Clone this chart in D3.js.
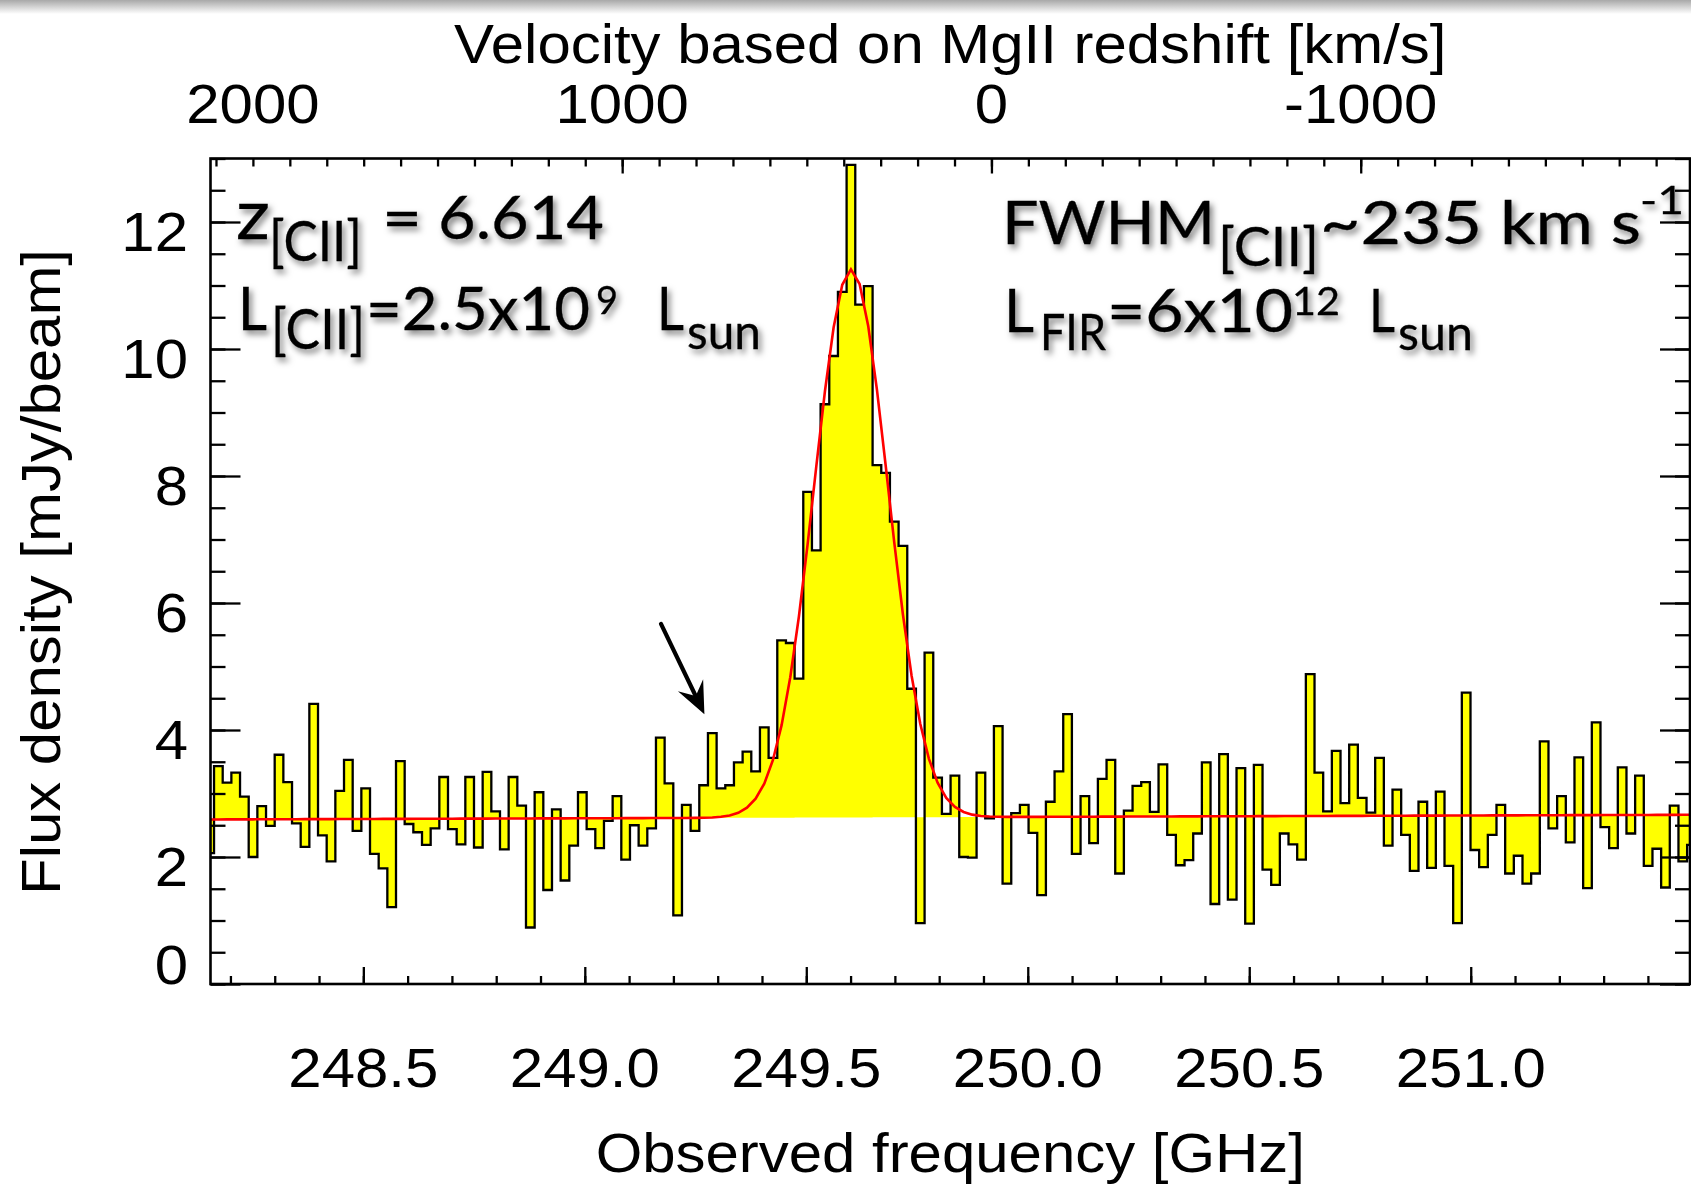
<!DOCTYPE html>
<html>
<head>
<meta charset="utf-8">
<script src="https://cdn.jsdelivr.net/npm/d3@7"></script>
<style>
  html, body { margin: 0; padding: 0; background: #fff; }
  svg { display: block; }
  text { white-space: pre; }
</style>
</head>
<body>
<script>
// channel grid of the spectrum (GHz)
const chanStart = 248.1532;   // centre of the first (partly hidden) channel
const chanWidth = 0.019562;

// flux density per channel [mJy/beam]
const flux = [
  2.06,
  3.43, 3.17, 3.33, 2.95, 2.00, 2.80, 2.49, 3.61, 3.18, 2.53,
  2.16, 4.41, 2.34, 1.93, 3.04, 3.53, 2.41, 3.08, 2.05, 1.82,
  1.21, 3.51, 2.52, 2.39, 2.19, 2.45, 3.26, 2.44, 2.20, 3.26,
  2.15, 3.34, 2.72, 2.12, 3.26, 2.81, 0.89, 3.02, 1.48, 2.75,
  1.63, 2.18, 3.02, 2.44, 2.14, 2.57, 2.96, 1.96, 2.50, 2.18,
  2.45, 3.88, 3.16, 1.08, 2.82, 2.41, 3.13, 3.95, 3.08, 3.13,
  3.49, 3.66, 3.35, 4.04, 3.56, 5.41, 5.37, 4.81, 7.75, 6.83,
  9.13, 9.89, 10.90, 12.90, 10.70, 10.99, 8.17, 8.05, 7.28, 6.90,
  4.65, 0.96, 5.22, 3.25, 2.68, 3.28, 2.00, 1.99, 3.33, 2.61,
  4.06, 1.58, 2.69, 2.82, 2.38, 1.40, 2.87, 3.35, 4.25, 2.05,
  2.96, 2.22, 3.23, 3.53, 1.74, 2.73, 3.12, 3.18, 2.71, 3.46,
  2.35, 1.87, 1.95, 2.37, 3.49, 1.26, 3.62, 1.33, 3.40, 0.95,
  3.45, 1.80, 1.56, 2.37, 2.20, 1.96, 4.88, 3.33, 2.72, 3.67,
  2.85, 3.77, 2.93, 2.70, 3.56, 2.18, 3.06, 2.35, 1.78, 2.87,
  1.83, 3.03, 1.86, 0.96, 4.59, 2.11, 1.84, 2.35, 2.82, 1.74,
  2.02, 1.58, 1.74, 3.82, 2.45, 2.96, 2.23, 3.57, 1.51, 4.12,
  2.47, 2.14, 3.41, 2.37, 3.28, 1.86, 2.13, 1.52, 2.81, 1.93,
  2.19
];

// gaussian + continuum fit (red curve)
const fitCenter = 249.601;   // GHz
const fitFwhmKms = 235;
const fitAmp = 8.63;         // mJy above continuum
const contLevel = 2.623;     // continuum at fitCenter
const contSlope = 0.022;     // per GHz

const restFreq = 249.918;    // GHz, zero velocity (MgII redshift)
const cLight = 299792.458;

const freqRange = [248.155, 251.495];
const fluxRange = [0, 13];
const freqTicks = [248.5, 249.0, 249.5, 250.0, 250.5, 251.0];
const fluxTicks = [0, 2, 4, 6, 8, 10, 12];
const velTicks = [2000, 1000, 0, -1000];
const velMajor = [1000, 0, -1000];

// arrow pointing at the blue wing [GHz, mJy]
const arrowFrom = [249.172, 5.67];
const arrowTo = [249.270, 4.25];

const W = 1691, H = 1189;
const box = { left: 210.5, right: 1690, top: 158.5, bottom: 984 };
const axisFont = "'Liberation Sans', Arial, Helvetica, sans-serif";
const noteFont = "Lato, 'Open Sans', sans-serif";

const svg = d3.select("body").append("svg").attr("width", W).attr("height", H);
const defs = svg.append("defs");

// grey shading strip along the very top
const grad = defs.append("linearGradient").attr("id", "topfade")
  .attr("x1", 0).attr("y1", 0).attr("x2", 0).attr("y2", 1);
grad.append("stop").attr("offset", 0).attr("stop-color", "#a8a8a8");
grad.append("stop").attr("offset", 1).attr("stop-color", "#ffffff");
svg.append("rect").attr("x", 0).attr("y", 0).attr("width", W).attr("height", 14)
  .attr("fill", "url(#topfade)");

defs.append("clipPath").attr("id", "plotclip").append("rect")
  .attr("x", box.left).attr("y", box.top)
  .attr("width", box.right - box.left).attr("height", box.bottom - box.top);

const shadow = defs.append("filter").attr("id", "shadow")
  .attr("x", "-20%").attr("y", "-30%").attr("width", "160%").attr("height", "180%");
shadow.append("feDropShadow").attr("dx", 3).attr("dy", 4).attr("stdDeviation", 3)
  .attr("flood-color", "#000").attr("flood-opacity", 0.5);

const x = d3.scaleLinear().domain(freqRange).range([box.left, box.right]);
const y = d3.scaleLinear().domain(fluxRange).range([box.bottom, box.top]);
const vel = f => (restFreq - f) / restFreq * cLight;
const xv = d3.scaleLinear().domain(freqRange.map(vel)).range([box.left, box.right]);

const cont = f => contLevel + contSlope * (f - fitCenter);
const sigma = fitFwhmKms / cLight * fitCenter / 2.35482;
const model = f => cont(f) + fitAmp * Math.exp(-0.5 * Math.pow((f - fitCenter) / sigma, 2));

const chans = flux.map((v, i) => ({ f: chanStart + i * chanWidth, v: v }));
const edges = chans.map(d => ({ f: d.f - chanWidth / 2, v: d.v }));
edges.push({ f: chans[chans.length - 1].f + chanWidth / 2, v: chans[chans.length - 1].v });

const plot = svg.append("g").attr("clip-path", "url(#plotclip)");

// yellow fill between spectrum and continuum
plot.append("path")
  .datum(edges)
  .attr("fill", "#ffff00")
  .attr("d", d3.area().x(d => x(d.f)).y0(d => y(cont(d.f))).y1(d => y(d.v)).curve(d3.curveStepAfter));

// histogram outline
plot.append("path")
  .datum(edges)
  .attr("fill", "none").attr("stroke", "#000").attr("stroke-width", 2.3)
  .attr("d", d3.line().x(d => x(d.f)).y(d => y(d.v)).curve(d3.curveStepAfter));

// gaussian fit sampled on the channels
plot.append("path")
  .datum(chans)
  .attr("fill", "none").attr("stroke", "#ff0000").attr("stroke-width", 2.6)
  .attr("d", d3.line().x(d => x(d.f)).y(d => y(model(d.f))));

// ticks (all pointing inward)
function ticks(axis, pos, vals, len) {
  const g = svg.append("g").attr("transform", pos)
    .call(axis.tickValues(vals).tickSize(len).tickFormat(""));
  g.select(".domain").remove();
  g.selectAll("line").attr("stroke", "#000").attr("stroke-width", 2.3);
}
const xMinor = d3.range(2482, 2515).map(v => v / 10);
const yMinor = d3.range(0, 27).map(v => v / 2);
const vMinor = d3.range(-1800, 2101, 100);

ticks(d3.axisTop(x), `translate(0,${box.bottom})`, xMinor, 8);
ticks(d3.axisTop(x), `translate(0,${box.bottom})`, freqTicks, 17);
ticks(d3.axisBottom(xv), `translate(0,${box.top})`, vMinor, 8);
ticks(d3.axisBottom(xv), `translate(0,${box.top})`, velMajor, 15);
ticks(d3.axisRight(y), `translate(${box.left},0)`, yMinor, 15);
ticks(d3.axisRight(y), `translate(${box.left},0)`, fluxTicks, 30);
ticks(d3.axisLeft(y), `translate(${box.right},0)`, yMinor, 15);
ticks(d3.axisLeft(y), `translate(${box.right},0)`, fluxTicks, 30);

// frame
svg.append("rect")
  .attr("x", box.left).attr("y", box.top)
  .attr("width", box.right - box.left).attr("height", box.bottom - box.top)
  .attr("fill", "none").attr("stroke", "#000").attr("stroke-width", 2.6);

// axis labels (slightly widened like the original postscript fonts)
function label(tx, ty, str, anchor, size, rot) {
  svg.append("text")
    .attr("transform", `translate(${tx},${ty})` + (rot ? ` rotate(${rot})` : "") + " scale(1.07,1)")
    .attr("text-anchor", anchor)
    .attr("font-family", axisFont).attr("font-size", size)
    .attr("fill", "#000")
    .text(str);
}

freqTicks.forEach(f => label(x(f), 1087, d3.format(".1f")(f), "middle", 56));
velTicks.forEach(v => label(xv(v), 123, String(v), "middle", 56));
fluxTicks.forEach(v => label(188, v === 0 ? y(v) : y(v) + 28.5, String(v), "end", 56));

label((box.left + box.right) / 2, 63, "Velocity based on MgII redshift [km/s]", "middle", 56);
label((box.left + box.right) / 2, 1172, "Observed frequency [GHz]", "middle", 56);
label(60, 572, "Flux density [mJy/beam]", "middle", 56, -90);

// arrow
const ax0 = x(arrowFrom[0]), ay0 = y(arrowFrom[1]);
const ax1 = x(arrowTo[0]), ay1 = y(arrowTo[1]);
const len = Math.hypot(ax1 - ax0, ay1 - ay0);
const ux = (ax1 - ax0) / len, uy = (ay1 - ay0) / len;
svg.append("line")
  .attr("x1", ax0).attr("y1", ay0)
  .attr("x2", ax1 - ux * 14).attr("y2", ay1 - uy * 14)
  .attr("stroke", "#000").attr("stroke-width", 4.2).attr("stroke-linecap", "round");
const hb = [ax1 - ux * 32, ay1 - uy * 32];
svg.append("path")
  .attr("fill", "#000")
  .attr("d", d3.line()([
    [ax1, ay1],
    [hb[0] - uy * 14, hb[1] + ux * 14],
    [ax1 - ux * 20, ay1 - uy * 20],
    [hb[0] + uy * 14, hb[1] - ux * 14]
  ]) + "Z");

// annotations with drop shadow; each piece: text, x, baseline, size, width
function note(segs) {
  const g = svg.append("g").attr("filter", "url(#shadow)");
  segs.forEach(s => {
    g.append("text")
      .attr("x", s[1]).attr("y", s[2])
      .attr("font-family", noteFont).attr("font-size", s[3])
      .attr("textLength", s[4]).attr("lengthAdjust", "spacingAndGlyphs")
      .attr("fill", "#000").attr("stroke", "#000").attr("stroke-width", 0.3)
      .text(s[0]);
  });
}

note([["z", 236, 239, 70, 34], ["[CII]", 269, 261, 56, 93],
      ["=", 382, 239, 60, 40], ["6.614", 438, 239, 60, 166]]);
note([["L", 238, 330, 60, 29], ["[CII]", 271, 349, 56, 94], ["=2.5x10", 366, 330, 60, 224],
      ["9", 596, 314, 38, 22], ["L", 657, 330, 60, 27], ["sun", 687, 349, 48, 74]]);
note([["FWHM", 1002, 244, 60, 213], ["[CII]", 1218, 266, 54, 101],
      ["~235 km s", 1320, 244, 60, 321], ["-1", 1640, 214, 38, 44]]);
note([["L", 1004, 332, 60, 30], ["FIR", 1040, 350, 50, 66], ["=6x10", 1107, 332, 60, 186],
      ["12", 1292, 315, 38, 48], ["L", 1369, 332, 60, 26], ["sun", 1398, 350, 48, 75]]);
</script>
</body>
</html>
